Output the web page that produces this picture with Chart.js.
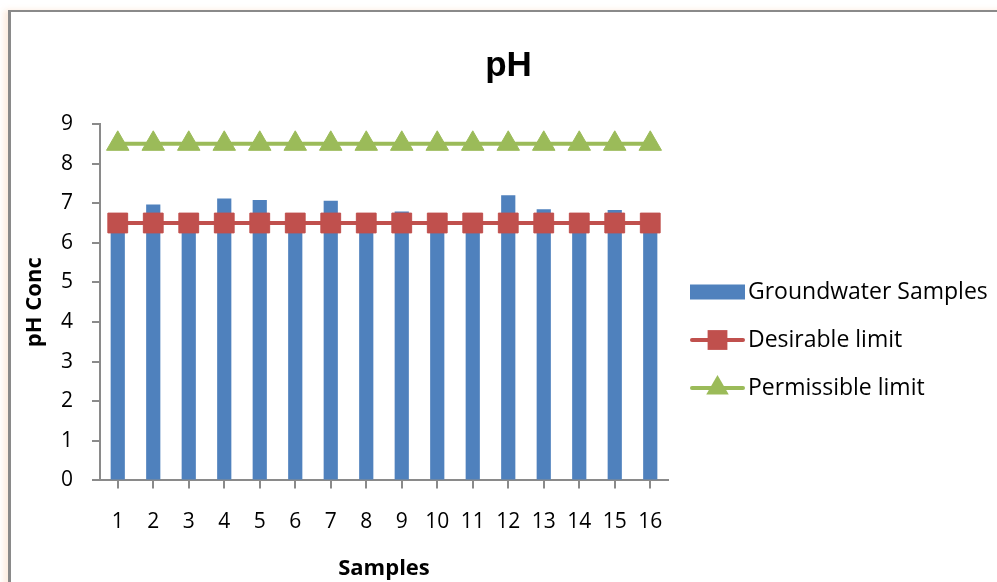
<!DOCTYPE html>
<html>
<head>
<meta charset="utf-8">
<script src="https://cdn.jsdelivr.net/npm/chart.js@4"></script>
<style>
  html, body { margin: 0; padding: 0; background: #ffffff; }
  #wrap { position: relative; width: 997px; height: 582px; overflow: hidden; }
  #frame {
    position: absolute; left: 8px; top: 10px; width: 1100px; height: 700px;
    border-top: 2px solid #8a8a8a; border-left: 3px solid #8a8a8a;
    box-shadow: -4px 0 6px rgba(250, 200, 160, 0.35);
  }
  canvas { position: absolute; left: 0; top: 0; }
</style>
</head>
<body>
<div id="wrap">
  <div id="frame"></div>
  <canvas id="chart" width="997" height="582"></canvas>
</div>
<script>
// Sample numbers along the x axis
const samples = ['1', '2', '3', '4', '5', '6', '7', '8', '9', '10', '11', '12', '13', '14', '15', '16'];
// Measured pH of each groundwater sample
const phValues = [6.65, 6.97, 6.70, 7.12, 7.08, 6.65, 7.06, 6.70, 6.79, 6.60, 6.70, 7.20, 6.85, 6.65, 6.83, 6.70];
// Drinking-water limits
const desirableLimit = [6.5, 6.5, 6.5, 6.5, 6.5, 6.5, 6.5, 6.5, 6.5, 6.5, 6.5, 6.5, 6.5, 6.5, 6.5, 6.5];
const permissibleLimit = [8.5, 8.5, 8.5, 8.5, 8.5, 8.5, 8.5, 8.5, 8.5, 8.5, 8.5, 8.5, 8.5, 8.5, 8.5, 8.5];
const yTicks = [0, 1, 2, 3, 4, 5, 6, 7, 8, 9];

const BLUE = '#4F81BD', RED = '#C0504D', GREEN = '#9BBB59', AXIS = '#8a8a8a';
const TEXT_FONT = '"Open Sans", "Liberation Sans", sans-serif';

// Legend on the right: bar swatch or line-with-marker, then the label
const sideLegend = {
  id: 'sideLegend',
  afterDraw(chart) {
    const ctx = chart.ctx;
    const x0 = 690, sw = 55, textX = 748;
    const rows = [292, 340, 388];
    ctx.save();
    ctx.font = '23px ' + TEXT_FONT;
    ctx.textBaseline = 'middle';
    chart.data.datasets.forEach((ds, i) => {
      const y = rows[i];
      if (ds.type === 'bar') {
        ctx.fillStyle = ds.backgroundColor;
        ctx.fillRect(x0, y - 7.5, sw, 15);
      } else {
        ctx.strokeStyle = ds.borderColor;
        ctx.lineWidth = ds.borderWidth;
        ctx.lineCap = 'round';
        ctx.beginPath();
        ctx.moveTo(x0 + 2, y);
        ctx.lineTo(x0 + sw - 2, y);
        ctx.stroke();
        ctx.fillStyle = ds.pointBackgroundColor;
        ctx.beginPath();
        if (ds.pointStyle === 'rect') {
          const s = ds.pointRadius * Math.SQRT1_2;
          ctx.rect(x0 + sw / 2 - s, y - s, 2 * s, 2 * s);
        } else {
          const r = ds.pointRadius;
          ctx.moveTo(x0 + sw / 2, y - r);
          ctx.lineTo(x0 + sw / 2 + r * Math.cos(Math.PI / 6), y + r / 2);
          ctx.lineTo(x0 + sw / 2 - r * Math.cos(Math.PI / 6), y + r / 2);
          ctx.closePath();
        }
        ctx.fill();
      }
      ctx.fillStyle = '#000';
      ctx.fillText(ds.label, textX, y);
    });
    ctx.restore();
  }
};

new Chart(document.getElementById('chart'), {
  data: {
    labels: samples,
    datasets: [
      {
        type: 'bar',
        label: 'Groundwater Samples',
        data: phValues,
        backgroundColor: BLUE,
        barPercentage: 0.4,
        categoryPercentage: 1.0,
        order: 3
      },
      {
        type: 'line',
        label: 'Desirable limit',
        data: desirableLimit,
        borderColor: RED,
        backgroundColor: RED,
        pointBackgroundColor: RED,
        pointBorderColor: RED,
        borderWidth: 4,
        pointStyle: 'rect',
        pointRadius: 14,
        pointBorderWidth: 1,
        tension: 0,
        order: 2
      },
      {
        type: 'line',
        label: 'Permissible limit',
        data: permissibleLimit,
        borderColor: GREEN,
        backgroundColor: GREEN,
        pointBackgroundColor: GREEN,
        pointBorderColor: GREEN,
        borderWidth: 4,
        pointStyle: 'triangle',
        pointRadius: 13,
        pointBorderWidth: 1,
        tension: 0,
        order: 1
      }
    ]
  },
  options: {
    responsive: false,
    animation: false,
    devicePixelRatio: 1,
    layout: { padding: { left: 20, top: 0, right: 0, bottom: 0 } },
    plugins: {
      legend: { display: false },
      tooltip: { enabled: false },
      title: {
        display: true,
        text: 'pH',
        color: '#000',
        font: { family: '"Liberation Sans", Arial, sans-serif', size: 35, weight: 'bold' },
        padding: { top: 45, bottom: 37 }
      }
    },
    scales: {
      x: {
        type: 'category',
        offset: true,
        grid: { offset: false, drawOnChartArea: false, color: AXIS, tickLength: 8, lineWidth: 2 },
        border: { color: AXIS, width: 2 },
        ticks: { color: '#000', font: { family: TEXT_FONT, size: 21 }, padding: 21, maxRotation: 0, autoSkip: false },
        title: {
          display: true, text: 'Samples', color: '#000',
          font: { family: TEXT_FONT, size: 22, weight: 'bold' },
          padding: { top: 0, bottom: 0 }
        }
      },
      y: {
        min: 0, max: 9,
        afterBuildTicks: (s) => { s.ticks = yTicks.map(v => ({ value: v })); },
        afterFit: (s) => { s.width = 80; },
        grid: { drawOnChartArea: false, color: AXIS, tickLength: 8, lineWidth: 2 },
        border: { color: AXIS, width: 2 },
        ticks: { color: '#000', font: { family: TEXT_FONT, size: 21 }, padding: 19 },
        title: {
          display: true, text: 'pH Conc', color: '#000',
          font: { family: TEXT_FONT, size: 22, weight: 'bold' },
          padding: { top: 2, bottom: 2 }
        }
      },
      side: {
        type: 'linear',
        position: 'right',
        display: true,
        afterFit: (s) => { s.width = 329; },
        grid: { display: false },
        border: { display: false },
        ticks: { display: false }
      }
    }
  },
  plugins: [sideLegend]
});
</script>
</body>
</html>
